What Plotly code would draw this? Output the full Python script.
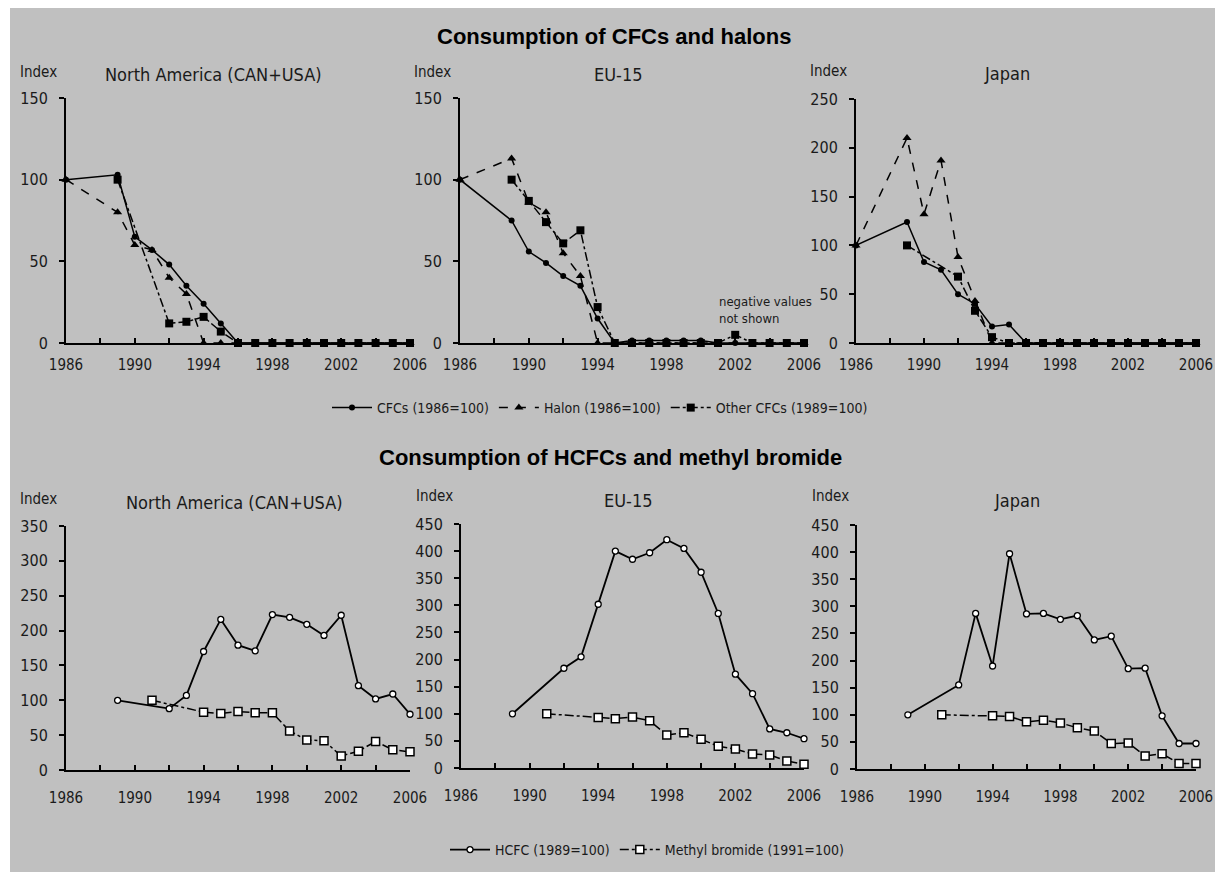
import plotly.graph_objects as go

# the page adds an 8px body margin and clips the graph to the body width,
# so the figure is smaller and every reference pixel position is shifted
W, H, OFF = 1207, 864, 8
NARROW = "Liberation Sans Narrow, Arial Narrow, DejaVu Sans Condensed, sans-serif"
BOLD = "Liberation Sans, Arial, sans-serif"

# ---------------- data: CFCs and halons ----------------
na_cfc_years = [1986, 1989, 1990, 1991, 1992, 1993, 1994, 1995, 1996, 1997, 1998, 1999, 2000, 2001, 2002, 2003, 2004, 2005, 2006]
na_cfc = [100, 103, 65, 57, 48, 35, 24, 12, 0, 0, 0, 0, 0, 0, 0, 0, 0, 0, 0]
na_halon_years = [1986, 1989, 1990, 1991, 1992, 1993, 1994, 1995, 1996, 1997, 1998, 1999, 2000, 2001, 2002, 2003, 2004, 2005, 2006]
na_halon = [100, 80, 60, 57, 40, 30, 0, 0, 0, 0, 0, 0, 0, 0, 0, 0, 0, 0, 0]
na_other_years = [1989, 1992, 1993, 1994, 1995, 1996, 1997, 1998, 1999, 2000, 2001, 2002, 2003, 2004, 2005, 2006]
na_other = [100, 12, 13, 16, 7, 0, 0, 0, 0, 0, 0, 0, 0, 0, 0, 0]

eu_cfc_years = [1986, 1989, 1990, 1991, 1992, 1993, 1994, 1995, 1996, 1997, 1998, 1999, 2000, 2001, 2002, 2003, 2004, 2005, 2006]
eu_cfc = [100, 75, 56, 49, 41, 35, 15, 0, 1.5, 1.5, 1.5, 1.5, 1.5, 0, 0, 0, 0, 0, 0]
eu_halon_years = [1986, 1989, 1990, 1991, 1992, 1993, 1994, 1995, 1996, 1997, 1998, 1999, 2000, 2001, 2002, 2003, 2004, 2005, 2006]
eu_halon = [100, 113, 86, 80, 55, 41, 0, 0, 0, 0, 0, 0, 0, 0, 0, 0, 0, 0, 0]
eu_other_years = [1989, 1990, 1991, 1992, 1993, 1994, 1995, 1996, 1997, 1998, 1999, 2000, 2001, 2002, 2003, 2004, 2005, 2006]
eu_other = [100, 87, 74, 61, 69, 22, 0, 0, 0, 0, 0, 0, 0, 5, 0, 0, 0, 0]

jp_cfc_years = [1986, 1989, 1990, 1991, 1992, 1993, 1994, 1995, 1996, 1997, 1998, 1999, 2000, 2001, 2002, 2003, 2004, 2005, 2006]
jp_cfc = [100, 124, 83, 75, 50, 40, 17, 19, 0, 0, 0, 0, 0, 0, 0, 0, 0, 0, 0]
jp_halon_years = [1986, 1989, 1990, 1991, 1992, 1993, 1994, 1995, 1996, 1997, 1998, 1999, 2000, 2001, 2002, 2003, 2004, 2005, 2006]
jp_halon = [100, 210, 132, 187, 88, 43, 0, 0, 0, 0, 0, 0, 0, 0, 0, 0, 0, 0, 0]
jp_other_years = [1989, 1992, 1993, 1994, 1995, 1996, 1997, 1998, 1999, 2000, 2001, 2002, 2003, 2004, 2005, 2006]
jp_other = [100, 68, 33, 6, 0, 0, 0, 0, 0, 0, 0, 0, 0, 0, 0, 0]

# ---------------- data: HCFCs and methyl bromide ----------------
hcfc_years = [1989, 1992, 1993, 1994, 1995, 1996, 1997, 1998, 1999, 2000, 2001, 2002, 2003, 2004, 2005, 2006]
na_hcfc = [100, 88, 107, 170, 216, 179, 171, 223, 219, 209, 193, 222, 121, 102, 109, 80]
eu_hcfc = [100, 184, 205, 302, 400, 385, 397, 421, 405, 361, 285, 173, 137, 72, 65, 54]
jp_hcfc = [100, 155, 287, 190, 397, 286, 287, 276, 283, 238, 245, 185, 186, 98, 47, 47]

mebr_years = [1991, 1994, 1995, 1996, 1997, 1998, 1999, 2000, 2001, 2002, 2003, 2004, 2005, 2006]
na_mebr = [100, 83, 81, 84, 82, 82, 56, 43, 42, 20, 27, 41, 29, 26]
eu_mebr = [100, 93, 91, 94, 87, 61, 65, 53, 40, 35, 26, 24, 13, 7]
jp_mebr = [100, 98, 97, 87, 90, 85, 76, 70, 47, 48, 24, 28, 10, 10]

panel_titles = ["North America (CAN+USA)", "EU-15", "Japan"]
top_ymax = [150, 150, 250]
bot_ymax = [350, 450, 450]

# panel pixel boxes in the reference: (x_left, x_right, y_bottom, y_top)
boxes = [
    (66, 410, 343, 98), (460, 804, 343, 98), (856, 1196, 343, 99),
    (66, 410, 770, 526), (461, 804, 768, 524), (857, 1196, 769, 525),
]


def fx(px):
    return (px - OFF) / W


def fy(py):
    return 1 - (py - OFF) / H


fig = go.Figure()

xticks = list(range(1986, 2007, 2))
xtext = [str(v) if (v - 1986) % 4 == 0 else "" for v in xticks]

for i, (x0, x1, yb, yt) in enumerate(boxes):
    n = "" if i == 0 else str(i + 1)
    ymax = top_ymax[i] if i < 3 else bot_ymax[i - 3]
    fig.update_layout(**{
        "xaxis" + n: dict(
            domain=[fx(x0), fx(x1)], anchor="y" + n, range=[1986, 2006],
            tickvals=xticks, ticktext=xtext, ticks="inside", ticklen=5,
            tickwidth=1.5, tickcolor="black", showline=True, linecolor="black",
            linewidth=2, showgrid=False, zeroline=False, automargin=False,
            tickfont=dict(family=NARROW, size=15, color="#1a1a1a"),
            ticklabelstandoff=7 if i < 3 else 13, ticklabeloverflow="allow",
        ),
        "yaxis" + n: dict(
            domain=[fy(yb), fy(yt)], anchor="x" + n, range=[0, ymax],
            dtick=50, ticks="outside", ticklen=5, tickwidth=1.5, tickcolor="black",
            showline=True, linecolor="black", linewidth=2, showgrid=False,
            zeroline=False, automargin=False,
            tickfont=dict(family=NARROW, size=16, color="#1a1a1a"),
            ticklabelstandoff=8,
        ),
    })

top_sets = [
    (na_cfc_years, na_cfc, na_halon_years, na_halon, na_other_years, na_other),
    (eu_cfc_years, eu_cfc, eu_halon_years, eu_halon, eu_other_years, eu_other),
    (jp_cfc_years, jp_cfc, jp_halon_years, jp_halon, jp_other_years, jp_other),
]
for i, (cy, cv, hy, hv, oy, ov) in enumerate(top_sets):
    xa = "x" if i == 0 else "x" + str(i + 1)
    ya = "y" if i == 0 else "y" + str(i + 1)
    fig.add_trace(go.Scatter(
        x=oy, y=ov, xaxis=xa, yaxis=ya, mode="lines+markers", name="Other CFCs (1989=100)",
        line=dict(color="black", width=1.5, dash="dashdot"),
        marker=dict(symbol="square", size=8, color="black"),
        showlegend=(i == 0), legend="legend", legendrank=3, cliponaxis=False))
    fig.add_trace(go.Scatter(
        x=hy, y=hv, xaxis=xa, yaxis=ya, mode="lines+markers", name="Halon (1986=100)",
        line=dict(color="black", width=1.5, dash="dash"),
        marker=dict(symbol="triangle-up", size=8, color="black"),
        showlegend=(i == 0), legend="legend", legendrank=2, cliponaxis=False))
    fig.add_trace(go.Scatter(
        x=cy, y=cv, xaxis=xa, yaxis=ya, mode="lines+markers", name="CFCs (1986=100)",
        line=dict(color="black", width=1.5),
        marker=dict(symbol="circle", size=6, color="black"),
        showlegend=(i == 0), legend="legend", legendrank=1, cliponaxis=False))

bot_sets = [(na_hcfc, na_mebr), (eu_hcfc, eu_mebr), (jp_hcfc, jp_mebr)]
for i, (hv, mv) in enumerate(bot_sets):
    xa = "x" + str(i + 4)
    ya = "y" + str(i + 4)
    fig.add_trace(go.Scatter(
        x=mebr_years, y=mv, xaxis=xa, yaxis=ya, mode="lines+markers",
        name="Methyl bromide (1991=100)",
        line=dict(color="black", width=1.5, dash="dashdot"),
        marker=dict(symbol="square", size=8, color="white", line=dict(color="black", width=1.5)),
        showlegend=(i == 0), legend="legend2", legendrank=2, cliponaxis=False))
    fig.add_trace(go.Scatter(
        x=hcfc_years, y=hv, xaxis=xa, yaxis=ya, mode="lines+markers",
        name="HCFC (1989=100)",
        line=dict(color="black", width=1.8),
        marker=dict(symbol="circle", size=6, color="white", line=dict(color="black", width=1.3)),
        showlegend=(i == 0), legend="legend2", legendrank=1, cliponaxis=False))

ann = []
ann.append(dict(text="<b>Consumption of CFCs and halons</b>", x=fx(614), y=fy(36),
                font=dict(family=BOLD, size=22, color="black")))
ann.append(dict(text="<b>Consumption of HCFCs and methyl bromide</b>", x=fx(610), y=fy(457),
                font=dict(family=BOLD, size=22, color="black")))
sub_pos = [(213, 75), (618, 75), (1007, 74), (235, 502), (628, 500), (1017, 500)]
for k, (sx, sy) in enumerate(sub_pos):
    ann.append(dict(text=panel_titles[k % 3], x=fx(sx), y=fy(sy),
                    font=dict(family=NARROW, size=18, color="#1a1a1a")))
idx_pos = [(38, 72), (432, 72), (828, 71), (38, 499), (434, 496), (830, 496)]
for sx, sy in idx_pos:
    ann.append(dict(text="Index", x=fx(sx), y=fy(sy),
                    font=dict(family=NARROW, size=15, color="#1a1a1a")))
for a in ann:
    a.update(xref="paper", yref="paper", showarrow=False, xanchor="center", yanchor="middle")
fig.update_layout(annotations=ann)
fig.add_annotation(text="negative values<br>not shown", x=fx(717), y=fy(310), xref="paper",
                   yref="paper", showarrow=False, xanchor="left", yanchor="middle", align="left",
                   font=dict(family=NARROW, size=13, color="#1a1a1a"))

fig.add_shape(type="rect", xref="paper", yref="paper", x0=fx(10), x1=1.0, y0=0.0, y1=1.0,
              fillcolor="#c0c0c0", line=dict(width=0), layer="below")

fig.update_layout(
    width=W, height=H, margin=dict(l=0, r=0, t=0, b=0, autoexpand=False),
    paper_bgcolor="white", plot_bgcolor="rgba(0,0,0,0)",
    legend=dict(orientation="h", x=fx(600), y=fy(408), xanchor="center", yanchor="middle",
                bgcolor="rgba(0,0,0,0)", font=dict(family=NARROW, size=14, color="#1a1a1a"),
                traceorder="normal", itemwidth=40),
    legend2=dict(orientation="h", x=fx(647), y=fy(850), xanchor="center", yanchor="middle",
                 bgcolor="rgba(0,0,0,0)", font=dict(family=NARROW, size=14, color="#1a1a1a"),
                 traceorder="normal", itemwidth=40),
)

fig.write_html("out.html")
